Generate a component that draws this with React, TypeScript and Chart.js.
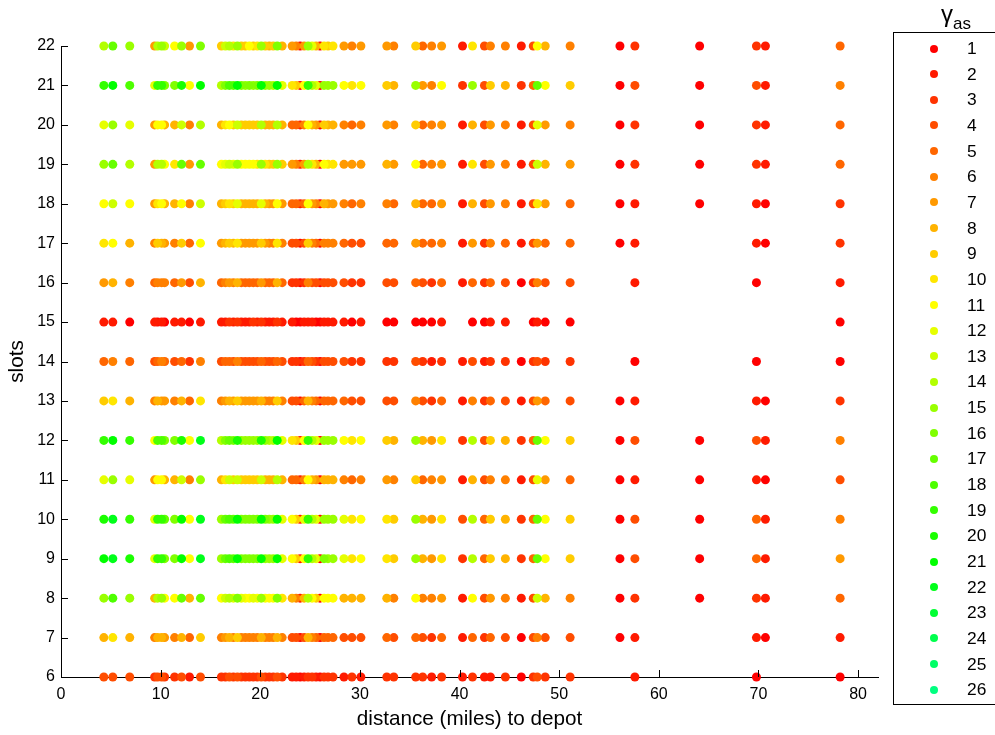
import React, { useEffect, useRef } from "react";
import { Chart, registerables } from "chart.js";
Chart.register(...registerables);

// distances (miles) to depot of the customers
const DISTANCES = [
  4.3, 5.2, 6.9, 9.4, 9.7, 10.1, 10.4, 11.4, 12.1, 12.9, 14.0,
  16.1, 16.5, 16.9, 17.3, 17.7, 18.1, 18.5, 18.9, 19.3, 19.7, 20.1, 20.5, 20.9, 21.3, 21.7, 22.2,
  23.2, 23.6, 24.0, 24.4, 24.8, 25.2, 25.6, 26.0, 26.4, 26.8, 27.3,
  28.4, 29.2, 30.1,
  32.7, 33.4, 35.6, 36.3, 37.2, 38.2, 40.3, 41.3, 42.5, 43.1, 44.6, 46.2, 47.4, 47.8, 48.6,
  51.1, 56.1, 57.6, 64.1, 69.8, 70.7, 78.2,
];

// gamma_as per distance for each slot count (0 = no point)
const ROW_22 = [14,17,15,7,14,15,13,11,15,7,16, 9,13,14,10,15,9,9,11,9,10,15,9,8,9,16,8, 7,6,1,7,15,12,8,1,10,9,10, 7,6,7, 7,6,9,5,6,7,2,10,4,6,6,2,4,11,8,6,1,3,1,3,2,5];
const ROW_21 = [19,21,18,12,19,19,16,16,20,11,21, 14,16,18,17,21,16,15,16,15,16,21,15,15,14,21,12, 10,9,1,11,19,14,12,1,15,15,15, 11,10,11, 9,8,15,7,6,11,3,15,4,9,8,3,5,17,11,9,1,4,1,4,2,6];
const ROW_20 = [12,15,12,7,11,11,8,8,13,6,14, 8,10,11,9,13,9,9,9,9,9,14,8,8,8,14,8, 5,5,2,6,11,8,7,1,9,8,8, 6,5,6, 7,6,9,5,6,7,2,8,4,7,6,2,4,12,7,6,1,3,1,3,2,5];
const ROW_19 = [15,17,14,7,14,14,11,10,17,7,17, 11,12,13,12,15,11,11,11,11,10,15,10,9,9,15,9, 7,6,2,7,14,10,8,1,11,10,10, 7,7,7, 8,7,11,5,6,7,2,10,4,7,6,2,4,13,8,7,1,3,1,3,2,5];
const ROW_18 = [11,13,11,7,10,11,8,8,11,6,13, 8,9,10,9,12,8,8,8,8,8,12,8,7,7,11,7, 5,5,2,5,11,7,6,1,8,7,7, 6,5,6, 6,5,8,5,5,7,2,8,4,7,6,2,4,10,7,5,1,2,1,2,1,3];
const ROW_17 = [10,11,8,6,9,8,7,6,9,5,11, 7,8,9,8,10,7,7,7,7,7,9,7,6,6,10,6, 4,4,1,4,9,6,5,1,6,6,6, 5,4,4, 5,5,7,5,5,6,2,7,3,6,5,2,4,7,5,5,1,2,0,2,1,3];
const ROW_16 = [7,8,6,5,6,6,6,5,7,4,8, 5,6,7,6,8,5,5,5,5,5,7,5,5,5,8,5, 3,3,1,3,6,4,4,1,4,4,4, 4,3,3, 4,4,5,4,3,5,2,5,3,5,4,1,3,6,4,4,0,2,0,1,0,2];
const ROW_15 = [2,2,1,2,1,2,1,2,2,1,2, 2,2,3,2,3,2,2,2,3,2,3,2,2,2,3,2, 2,1,1,2,2,2,1,1,2,2,2, 2,1,2, 1,1,1,1,1,2,0,1,1,2,2,0,1,2,1,1,0,0,0,0,0,1];
const ROW_14 = [5,6,5,4,5,6,5,4,5,3,6, 4,5,5,4,6,4,4,4,4,4,5,4,4,4,5,4, 3,3,1,3,5,4,3,1,4,4,4, 4,3,3, 3,3,4,3,2,3,2,4,2,3,3,1,3,4,3,3,0,1,0,1,0,1];
const ROW_13 = [9,10,8,6,8,7,7,6,8,5,10, 6,7,8,7,9,7,7,7,7,7,8,6,6,6,9,6, 4,4,1,5,8,6,5,1,5,5,5, 5,4,4, 4,4,6,4,3,5,2,6,3,5,4,2,4,7,5,4,1,2,0,2,1,3];
const ROW_12 = [19,21,19,11,18,18,16,16,20,11,22, 14,16,17,16,20,15,15,15,15,15,20,15,14,14,21,12, 10,9,2,11,19,14,12,1,15,15,15, 11,10,11, 9,8,15,8,7,10,3,14,4,9,8,3,5,17,11,9,1,4,1,4,2,6];
const ROW_11 = [12,15,12,7,11,11,8,8,13,6,15, 8,10,13,9,13,9,9,9,9,9,13,8,8,8,14,8, 5,5,2,6,11,8,7,1,8,8,8, 6,5,6, 7,6,9,5,6,7,2,8,4,6,6,2,4,12,7,5,1,2,1,2,1,4];
const ROW_10 = [20,22,19,12,19,19,17,16,21,11,22, 15,17,18,17,21,16,16,16,16,16,21,16,15,15,21,12, 11,9,2,12,19,14,12,1,15,15,15, 12,10,11, 10,9,15,8,7,10,4,14,5,9,8,3,5,17,11,9,1,4,1,5,2,6];
const ROW_9 = [21,22,20,12,19,19,16,16,21,11,22, 15,17,18,17,21,16,16,16,16,16,21,15,15,15,21,12, 11,9,2,11,19,14,12,1,16,15,15, 12,10,11, 10,9,15,8,7,10,3,14,5,9,8,3,5,17,11,9,1,4,1,5,2,7];
const ROW_8 = [15,18,15,8,14,15,11,11,17,8,17, 11,13,14,12,16,12,11,11,12,11,15,11,11,11,16,10, 8,6,2,8,14,11,9,1,11,11,11, 8,8,8, 8,6,11,6,6,7,2,11,4,7,6,2,4,13,8,6,1,3,1,3,2,5];
const ROW_7 = [8,10,8,6,8,8,7,6,8,5,9, 6,7,8,6,9,6,6,6,6,6,8,6,6,6,8,6, 4,4,1,4,8,6,5,1,5,5,5, 4,4,4, 5,4,5,4,3,5,2,5,3,5,4,1,4,6,4,4,1,2,0,2,1,2];
const ROW_6 = [4,4,4,3,4,4,3,3,4,2,4, 3,3,4,3,4,3,3,3,3,3,4,3,3,3,4,3, 2,2,1,2,3,3,2,1,3,3,3, 2,3,2, 3,3,3,3,2,3,2,3,2,2,3,1,3,4,3,3,0,2,0,1,0,1];

const SLOTS = [22, 21, 20, 19, 18, 17, 16, 15, 14, 13, 12, 11, 10, 9, 8, 7, 6];
const ROWS = [ROW_22, ROW_21, ROW_20, ROW_19, ROW_18, ROW_17, ROW_16, ROW_15, ROW_14, ROW_13, ROW_12, ROW_11, ROW_10, ROW_9, ROW_8, ROW_7, ROW_6];

const GAMMAS = [1,2,3,4,5,6,7,8,9,10,11,12,13,14,15,16,17,18,19,20,21,22,23,24,25,26];
const COLORS = [
  "#ff0000", "#ff1a00", "#ff3300", "#ff4d00", "#ff6600", "#ff8000", "#ff9900", "#ffb300", "#ffcc00",
  "#ffe600", "#ffff00", "#e6ff00", "#ccff00", "#b3ff00", "#99ff00", "#80ff00", "#66ff00", "#4dff00",
  "#33ff00", "#1aff00", "#00ff00", "#00ff1a", "#00ff33", "#00ff4d", "#00ff66", "#00ff80",
];

const X_TICKS = [0, 10, 20, 30, 40, 50, 60, 70, 80];
const Y_TICKS = [6, 7, 8, 9, 10, 11, 12, 13, 14, 15, 16, 17, 18, 19, 20, 21, 22];

const FONT = "'Liberation Sans', Arial, Helvetica, sans-serif";

const inwardTicks = {
  id: "inwardTicks",
  afterDraw(chart: any) {
    const { ctx, chartArea, scales } = chart;
    ctx.save();
    ctx.strokeStyle = "#000";
    ctx.lineWidth = 1;
    ctx.beginPath();
    for (const v of X_TICKS) {
      const px = Math.round(scales.x.getPixelForValue(v)) + 0.5;
      ctx.moveTo(px, chartArea.bottom);
      ctx.lineTo(px, chartArea.bottom - 7);
    }
    for (const v of Y_TICKS) {
      const py = Math.round(scales.y.getPixelForValue(v)) + 0.5;
      ctx.moveTo(chartArea.left, py);
      ctx.lineTo(chartArea.left + 7, py);
    }
    ctx.stroke();
    ctx.restore();
  },
};

export default function App() {
  const ref = useRef<HTMLCanvasElement | null>(null);

  useEffect(() => {
    if (!ref.current) return;
    const datasets = GAMMAS.map((g, gi) => {
      const data: { x: number; y: number }[] = [];
      ROWS.forEach((row, ri) => {
        row.forEach((val, di) => {
          if (val === g) data.push({ x: DISTANCES[di], y: SLOTS[ri] });
        });
      });
      return {
        label: String(g),
        data,
        order: 27 - g,
        clip: false as any,
        pointRadius: 4.5,
        pointBorderWidth: 0,
        pointBackgroundColor: COLORS[gi],
        pointBorderColor: COLORS[gi],
        backgroundColor: COLORS[gi],
        borderColor: COLORS[gi],
        showLine: false,
      };
    });

    const chart = new Chart(ref.current, {
      type: "scatter",
      data: { datasets },
      options: {
        animation: false,
        responsive: false,
        maintainAspectRatio: false,
        devicePixelRatio: 1,
        events: [],
        layout: { padding: { left: 0, top: 46, right: 117, bottom: 0 } },
        plugins: { legend: { display: false }, tooltip: { enabled: false } },
        scales: {
          x: {
            type: "linear",
            min: 0,
            max: 82,
            afterBuildTicks: (s: any) => {
              s.ticks = X_TICKS.map((v) => ({ value: v }));
            },
            afterFit: (s: any) => {
              s.height = 58;
            },
            grid: { display: false, drawTicks: false },
            border: { display: true, color: "#000", width: 1 },
            ticks: { color: "#000", font: { family: FONT, size: 16 }, padding: 8, maxRotation: 0, autoSkip: false },
            title: {
              display: true,
              text: "distance (miles) to depot",
              color: "#000",
              font: { family: FONT, size: 20.7 },
              padding: { top: 0, bottom: 3 },
            },
          },
          y: {
            type: "linear",
            min: 6,
            max: 22,
            afterBuildTicks: (s: any) => {
              s.ticks = Y_TICKS.map((v) => ({ value: v }));
            },
            afterFit: (s: any) => {
              s.width = 61;
            },
            grid: { display: false, drawTicks: false },
            border: { display: true, color: "#000", width: 1 },
            ticks: { color: "#000", font: { family: FONT, size: 16 }, padding: 6, autoSkip: false },
            title: {
              display: true,
              text: "slots",
              color: "#000",
              font: { family: FONT, size: 20.7 },
              padding: { top: 5, bottom: 0 },
            },
          },
        },
      },
      plugins: [inwardTicks],
    } as any);
    return () => chart.destroy();
  }, []);

  return (
    <div style={{ position: "fixed", left: 0, top: 0, width: 995, height: 735, overflow: "hidden", background: "#fff", fontFamily: FONT }}>
      <canvas ref={ref} width={995} height={735} style={{ position: "absolute", left: 0, top: 0, width: 995, height: 735 }} />
      <div style={{ position: "absolute", left: 941, top: 2, color: "#000", whiteSpace: "nowrap", lineHeight: 1 }}>
        <span style={{ fontSize: 24 }}>γ</span>
        <span style={{ fontSize: 17, position: "relative", top: 7 }}>as</span>
      </div>
      <div style={{ position: "absolute", left: 893, top: 32, width: 140, height: 673, border: "1.5px solid #000", boxSizing: "border-box" }}>
        {GAMMAS.map((g, i) => (
          <div key={g} style={{ position: "absolute", left: 0, top: 3 + i * 25.65, height: 25, width: 120, display: "flex", alignItems: "center" }}>
            <div style={{ position: "absolute", left: 36, width: 8, height: 8, borderRadius: "50%", background: COLORS[i] }} />
            <div style={{ position: "absolute", left: 73, fontSize: 17.4, color: "#000" }}>{g}</div>
          </div>
        ))}
      </div>
    </div>
  );
}
